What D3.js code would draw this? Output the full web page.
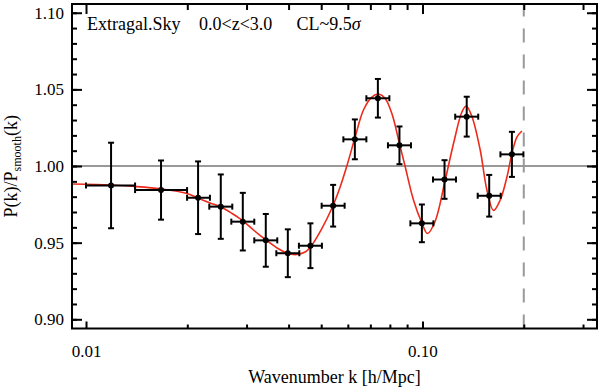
<!DOCTYPE html>
<html>
<head>
<meta charset="utf-8">
<script src="https://cdn.jsdelivr.net/npm/d3@7/dist/d3.min.js"></script>
<style>
  html, body { margin: 0; padding: 0; background: #fff; }
  svg { display: block; }
  text { font-family: "Liberation Serif", "DejaVu Serif", serif; fill: #000; }
</style>
</head>
<body>
<svg id="chart" width="600" height="390"></svg>
<script>
// ---- data ----
const pointK   = [0.01187, 0.01671, 0.02153, 0.02515, 0.02924, 0.03422, 0.03979, 0.04645, 0.05426,
                  0.06295, 0.07369, 0.08542, 0.09959, 0.11627, 0.13534, 0.15787, 0.18441];
const pointKLo = [0.01000, 0.01399, 0.01997, 0.02325, 0.02703, 0.03163, 0.03678, 0.04293, 0.05015,
                  0.05819, 0.06811, 0.07895, 0.09205, 0.10747, 0.12510, 0.14592, 0.17045];
const pointKHi = [0.01399, 0.01997, 0.02335, 0.02721, 0.03163, 0.03702, 0.04305, 0.05025, 0.05870,
                  0.06811, 0.07973, 0.09242, 0.10775, 0.12579, 0.14643, 0.17080, 0.19951];
const pointVal = [0.9873, 0.9843, 0.9793, 0.9735, 0.9637, 0.9515, 0.9431, 0.9480, 0.9741,
                  1.0174, 1.0442, 1.0135, 0.9626, 0.9912, 1.0322, 0.9806, 1.0076];
const pointErr = [0.0279, 0.0193, 0.0237, 0.0210, 0.0188, 0.0172, 0.0156, 0.0146, 0.0136,
                  0.0130, 0.0126, 0.0123, 0.0123, 0.0126, 0.0130, 0.0136, 0.0147];

const modelK = [0.009086, 0.01187, 0.013985, 0.016713, 0.019967, 0.021528, 0.023375, 0.025199, 0.027180,
                0.029303, 0.031594, 0.034290, 0.036983, 0.039871, 0.042313, 0.044790, 0.046350, 0.050219,
                0.053996, 0.056918, 0.059589, 0.063079, 0.066766, 0.070718, 0.073985, 0.077456, 0.081093,
                0.085423, 0.088823, 0.094017, 0.099591, 0.10348, 0.10908, 0.11683, 0.12366, 0.13097,
                0.13488, 0.14025, 0.14844, 0.15540, 0.16259, 0.17023, 0.17821, 0.18441, 0.19083, 0.19748];
const modelV = [0.98826, 0.98761, 0.98663, 0.98500, 0.98206, 0.97913, 0.97586, 0.97325, 0.96901,
                0.96412, 0.95793, 0.95173, 0.94651, 0.94292, 0.94227, 0.94390, 0.94684, 0.95923,
                0.97325, 0.98630, 1.00000, 1.01892, 1.03653, 1.04501, 1.04697, 1.04403, 1.03425,
                1.01468, 0.99967, 0.97782, 0.96282, 0.95597, 0.96400, 0.99087, 1.01468, 1.03523,
                1.03914, 1.03229, 1.01044, 0.98434, 0.97097, 0.97782, 0.99282, 1.00815, 1.01892, 1.02283];

const yMajor = [0.90, 0.95, 1.00, 1.05, 1.10];
const yMajorLabels = ["0.90", "0.95", "1.00", "1.05", "1.10"];
const yMinor = [0.90, 0.91, 0.92, 0.93, 0.94, 0.95, 0.96, 0.97, 0.98, 0.99, 1.00,
                1.01, 1.02, 1.03, 1.04, 1.05, 1.06, 1.07, 1.08, 1.09, 1.10];
const xMajor = [0.01, 0.1];
const xMajorLabels = ["0.01", "0.10"];
const xMinor = [0.02, 0.03, 0.04, 0.05, 0.06, 0.07, 0.08, 0.09, 0.2, 0.3];
const kMax = 0.2;            // dashed vertical line
const refLine = 1.0;         // gray horizontal line

// ---- layout ----
const svg = d3.select("#chart");
const L = 72, R = 597, T = 4, B = 328.5;
const x = d3.scaleLog().domain([0.009086, 0.3301]).range([L, R]);
const y = d3.scaleLinear().domain([0.894, 1.1057]).range([B, T]);

// reference lines
svg.append("line")
  .attr("x1", L).attr("x2", R).attr("y1", y(refLine)).attr("y2", y(refLine))
  .attr("stroke", "#999").attr("stroke-width", 2);
svg.append("line")
  .attr("x1", x(kMax)).attr("x2", x(kMax)).attr("y1", B).attr("y2", T)
  .attr("stroke", "#999").attr("stroke-width", 2).attr("stroke-dasharray", "14,12");

// model curve
const line = d3.line().x((d, i) => x(modelK[i])).y((d, i) => y(modelV[i])).curve(d3.curveCatmullRom.alpha(0.5));
svg.append("path").attr("d", line(modelK)).attr("fill", "none")
  .attr("stroke", "#ee2a1b").attr("stroke-width", 1.6);

// data points with error bars
const pts = svg.append("g").attr("stroke", "#000").attr("stroke-width", 2);
const cap = 3;
pointK.forEach((k, i) => {
  const cx = x(k), cy = y(pointVal[i]);
  const yt = y(pointVal[i] + pointErr[i]), yb = y(pointVal[i] - pointErr[i]);
  const xl = x(pointKLo[i]), xr = x(pointKHi[i]);
  pts.append("line").attr("x1", cx).attr("x2", cx).attr("y1", yt).attr("y2", yb);
  pts.append("line").attr("x1", cx - cap).attr("x2", cx + cap).attr("y1", yt).attr("y2", yt);
  pts.append("line").attr("x1", cx - cap).attr("x2", cx + cap).attr("y1", yb).attr("y2", yb);
  pts.append("line").attr("x1", xl).attr("x2", xr).attr("y1", cy).attr("y2", cy);
  pts.append("line").attr("x1", xl).attr("x2", xl).attr("y1", cy - cap).attr("y2", cy + cap);
  pts.append("line").attr("x1", xr).attr("x2", xr).attr("y1", cy - cap).attr("y2", cy + cap);
});
svg.append("g").selectAll("circle").data(pointK).join("circle")
  .attr("cx", d => x(d)).attr("cy", (d, i) => y(pointVal[i])).attr("r", 3).attr("fill", "#000");

// axes
function styleAxis(g) {
  g.select(".domain").remove();
  g.selectAll(".tick line").attr("stroke", "#000").attr("stroke-width", 2);
  g.selectAll(".tick text").style("font-family", "Liberation Serif").style("font-size", "17px").attr("fill", "#000");
}
// left
svg.append("g").attr("transform", `translate(${L},0)`)
  .call(d3.axisLeft(y).tickValues(yMajor).tickFormat((d, i) => yMajorLabels[i]).tickSize(-10).tickPadding(8))
  .call(styleAxis);
svg.append("g").attr("transform", `translate(${L},0)`)
  .call(d3.axisLeft(y).tickValues(yMinor).tickFormat("").tickSize(-5)).call(styleAxis);
// right
svg.append("g").attr("transform", `translate(${R},0)`)
  .call(d3.axisRight(y).tickValues(yMajor).tickFormat("").tickSize(-10)).call(styleAxis);
svg.append("g").attr("transform", `translate(${R},0)`)
  .call(d3.axisRight(y).tickValues(yMinor).tickFormat("").tickSize(-5)).call(styleAxis);
// bottom
svg.append("g").attr("transform", `translate(0,${B})`)
  .call(d3.axisBottom(x).tickValues(xMajor).tickFormat((d, i) => xMajorLabels[i]).tickSize(-7).tickPadding(16))
  .call(styleAxis);
svg.append("g").attr("transform", `translate(0,${B})`)
  .call(d3.axisBottom(x).tickValues(xMinor).tickFormat("").tickSize(-4)).call(styleAxis);
// top
svg.append("g").attr("transform", `translate(0,${T})`)
  .call(d3.axisTop(x).tickValues(xMajor).tickFormat("").tickSize(-10)).call(styleAxis);
svg.append("g").attr("transform", `translate(0,${T})`)
  .call(d3.axisTop(x).tickValues(xMinor).tickFormat("").tickSize(-6)).call(styleAxis);

// frame
svg.append("rect").attr("x", L).attr("y", T).attr("width", R - L).attr("height", B - T)
  .attr("fill", "none").attr("stroke", "#000").attr("stroke-width", 2);

// axis titles
svg.append("text").attr("x", (L + R) / 2).attr("y", 383).attr("text-anchor", "middle")
  .style("font-size", "18px").text("Wavenumber k [h/Mpc]");
const yl = svg.append("text").attr("transform", `translate(17,${(T + B) / 2}) rotate(-90)`)
  .attr("text-anchor", "middle").style("font-size", "18px");
yl.append("tspan").text("P(k)/P");
yl.append("tspan").attr("dy", 4).style("font-size", "12px").text("smooth");
yl.append("tspan").attr("dy", -4).text("(k)");

// annotation
const ann = svg.append("g").style("font-size", "18px");
ann.append("text").attr("x", 87).attr("y", 29.5).text("Extragal.Sky");
ann.append("text").attr("x", 199).attr("y", 29.5).text("0.0<z<3.0");
const cl = ann.append("text").attr("x", 296.5).attr("y", 29.5);
cl.append("tspan").text("CL~9.5");
cl.append("tspan").style("font-style", "italic").text("σ");
</script>
</body>
</html>
